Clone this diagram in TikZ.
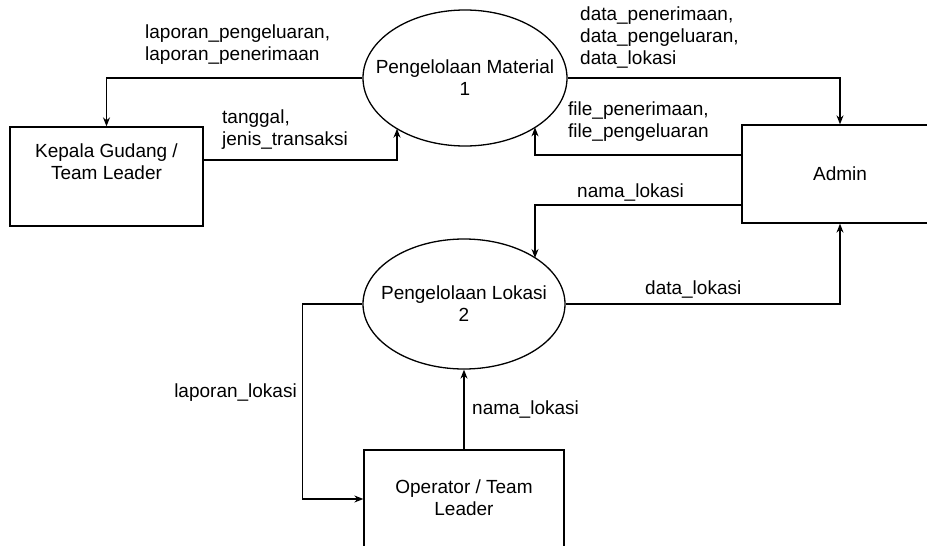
\documentclass[tikz,border=0pt]{standalone}
\usepackage{fontspec}
\setmainfont{Liberation Sans}
\usetikzlibrary{arrows.meta,shapes.geometric}

\tikzset{
  every node/.style={font=\fontsize{19}{22}\selectfont},
  proc/.style={draw, ellipse, line width=1.3pt, inner sep=0pt},
  entity/.style={draw, rectangle, line width=1.3pt, inner sep=0pt},
  lbl/.style={inner sep=0pt, align=left},
  ctext/.style={inner sep=0pt, align=center},
  flow/.style={draw, line width=1.3pt, -{Stealth[length=9pt,width=7pt]}}
}

\begin{document}
\begin{tikzpicture}[x=1pt,y=-1pt]
  \useasboundingbox (0,0) rectangle (927,546);

  % processes
  \node[proc, minimum width=204pt, minimum height=136pt] (p1) at (465,78) {};
  \node[ctext] (p1t) at (p1.center) {Pengelolaan Material\\1};
  \node[proc, minimum width=202pt, minimum height=130pt] (p2) at (464,304) {};
  \node[ctext] (p2t) at (p2.center) {Pengelolaan Lokasi\\2};

  % external entities
  \node[entity, minimum width=193pt, minimum height=99pt] (kg) at (106.5,176.5) {};
  \node[ctext] (kgt) at (106.5,162) {Kepala Gudang /\\Team Leader};
  \node[entity, minimum width=196pt, minimum height=98pt] (ad) at (840,174) {};
  \node[ctext] (adt) at (ad.center) {Admin};
  \node[entity, minimum width=200pt, minimum height=98pt] (op) at (464,499) {};
  \node[ctext] (opt) at (464,498) {Operator / Team\\Leader};

  % connector end points on the ellipse borders
  \coordinate (c1) at (397,128.7);
  \coordinate (c2) at (535,127.4);
  \coordinate (c3) at (535,258);

  % data flows
  \draw[flow] (p1.west) -| (kg.north);
  \draw[flow] ([yshift=16.5pt]kg.east) -| (c1);
  \draw[flow] (p1.east) -| (ad.north);
  \draw[flow] ([yshift=19pt]ad.west) -| (c2);
  \draw[flow] ([yshift=-31pt]ad.west) -| (c3);
  \draw[flow] (p2.east) -| (ad.south);
  \draw[flow] (p2.west) -- ++(-60,0) |- (op.west);
  \draw[flow] (op.north) -- (p2.south);

  % flow labels
  \node[lbl, anchor=west] (l1) at (145,45) {laporan\_pengeluaran,\\laporan\_penerimaan};
  \node[lbl, anchor=west] (l2) at (222,130) {tanggal,\\jenis\_transaksi};
  \node[lbl, anchor=west] (l3) at (580,38) {data\_penerimaan,\\data\_pengeluaran,\\data\_lokasi};
  \node[lbl, anchor=west] (l4) at (568,121.5) {file\_penerimaan,\\file\_pengeluaran};
  \node[lbl, anchor=west] (l5) at (577,193) {nama\_lokasi};
  \node[lbl, anchor=west] (l6) at (645,290) {data\_lokasi};
  \node[lbl, anchor=east] (l7) at (297,393) {laporan\_lokasi};
  \node[lbl, anchor=west] (l8) at (472,410) {nama\_lokasi};
\end{tikzpicture}
\end{document}
